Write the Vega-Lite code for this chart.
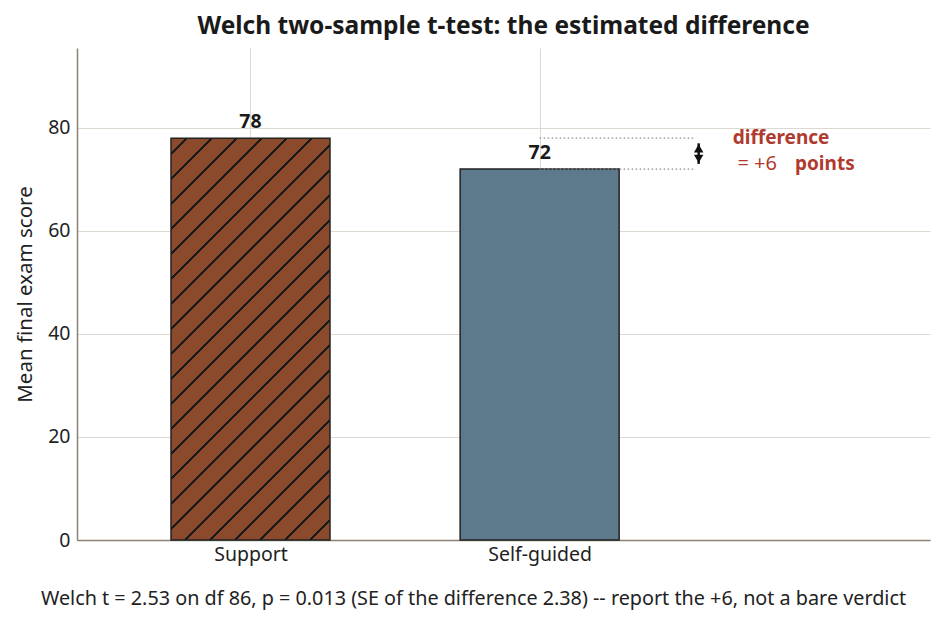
{
  "$schema": "https://vega.github.io/schema/vega-lite/v6.json",
  "autosize": "none",
  "width": 853,
  "height": 492,
  "padding": {"left": 77, "top": 48, "right": 16, "bottom": 88},
  "title": {
    "text": "Welch two-sample t-test: the estimated difference",
    "fontSize": 24.5,
    "fontWeight": "bold",
    "color": "#1a1a1a",
    "offset": 9
  },
  "config": {
    "font": "Noto Sans",
    "view": {"stroke": null},
    "axis": {
      "labelColor": "#222222",
      "titleColor": "#222222",
      "labelFontSize": 19.5,
      "titleFontSize": 20.5,
      "titleFontWeight": "normal",
      "ticks": false,
      "domainColor": "#8b8272",
      "domainWidth": 1.5,
      "gridColor": "#dcd8d2",
      "gridWidth": 1
    }
  },
  "data": {
    "values": [
      {"group": "Support", "pos": 0, "mean": 78},
      {"group": "Self-guided", "pos": 1, "mean": 72}
    ]
  },
  "layer": [
    {
      "mark": {"type": "bar", "orient": "vertical", "width": 159, "stroke": "#222222", "strokeWidth": 1.5},
      "encoding": {
        "x": {
          "field": "pos",
          "type": "quantitative",
          "scale": {"domain": [-0.6, 2.35], "nice": false, "zero": false, "padding": 0},
          "axis": {
            "values": [0, 1],
            "labelExpr": "datum.value === 0 ? 'Support' : datum.value === 1 ? 'Self-guided' : ''",
            "labelPadding": 5,
            "grid": true,
            "title": "Welch t = 2.53 on df 86, p = 0.013 (SE of the difference 2.38) -- report the +6, not a bare verdict",
            "titleFontSize": 19.8,
            "titleX": 396,
            "titleY": 64,
            "titleAnchor": null,
            "titleAlign": "center",
            "titleBaseline": "alphabetic"
          }
        },
        "y": {
          "field": "mean",
          "type": "quantitative",
          "scale": {"domain": [0, 95.5], "nice": false},
          "axis": {
            "values": [0, 20, 40, 60, 80],
            "labelPadding": 7,
            "title": "Mean final exam score",
            "titlePadding": 12
          }
        },
        "fill": {
          "condition": {
            "test": "datum.group === 'Support'",
            "value": {
              "gradient": "linear",
              "x1": 0, "y1": 0, "x2": 0.4773, "y2": 1.2068,
              "stops": [
                {"offset": 0, "color": "#8a4a2b"},
                {"offset": 0.0256, "color": "#8a4a2b"}, {"offset": 0.0256, "color": "#1a1a1a"}, {"offset": 0.0304, "color": "#1a1a1a"}, {"offset": 0.0304, "color": "#8a4a2b"},
                {"offset": 0.0701, "color": "#8a4a2b"}, {"offset": 0.0701, "color": "#1a1a1a"}, {"offset": 0.0749, "color": "#1a1a1a"}, {"offset": 0.0749, "color": "#8a4a2b"},
                {"offset": 0.1147, "color": "#8a4a2b"}, {"offset": 0.1147, "color": "#1a1a1a"}, {"offset": 0.1195, "color": "#1a1a1a"}, {"offset": 0.1195, "color": "#8a4a2b"},
                {"offset": 0.1593, "color": "#8a4a2b"}, {"offset": 0.1593, "color": "#1a1a1a"}, {"offset": 0.1641, "color": "#1a1a1a"}, {"offset": 0.1641, "color": "#8a4a2b"},
                {"offset": 0.2038, "color": "#8a4a2b"}, {"offset": 0.2038, "color": "#1a1a1a"}, {"offset": 0.2086, "color": "#1a1a1a"}, {"offset": 0.2086, "color": "#8a4a2b"},
                {"offset": 0.2484, "color": "#8a4a2b"}, {"offset": 0.2484, "color": "#1a1a1a"}, {"offset": 0.2532, "color": "#1a1a1a"}, {"offset": 0.2532, "color": "#8a4a2b"},
                {"offset": 0.2930, "color": "#8a4a2b"}, {"offset": 0.2930, "color": "#1a1a1a"}, {"offset": 0.2978, "color": "#1a1a1a"}, {"offset": 0.2978, "color": "#8a4a2b"},
                {"offset": 0.3375, "color": "#8a4a2b"}, {"offset": 0.3375, "color": "#1a1a1a"}, {"offset": 0.3423, "color": "#1a1a1a"}, {"offset": 0.3423, "color": "#8a4a2b"},
                {"offset": 0.3821, "color": "#8a4a2b"}, {"offset": 0.3821, "color": "#1a1a1a"}, {"offset": 0.3869, "color": "#1a1a1a"}, {"offset": 0.3869, "color": "#8a4a2b"},
                {"offset": 0.4267, "color": "#8a4a2b"}, {"offset": 0.4267, "color": "#1a1a1a"}, {"offset": 0.4315, "color": "#1a1a1a"}, {"offset": 0.4315, "color": "#8a4a2b"},
                {"offset": 0.4712, "color": "#8a4a2b"}, {"offset": 0.4712, "color": "#1a1a1a"}, {"offset": 0.4760, "color": "#1a1a1a"}, {"offset": 0.4760, "color": "#8a4a2b"},
                {"offset": 0.5158, "color": "#8a4a2b"}, {"offset": 0.5158, "color": "#1a1a1a"}, {"offset": 0.5206, "color": "#1a1a1a"}, {"offset": 0.5206, "color": "#8a4a2b"},
                {"offset": 0.5604, "color": "#8a4a2b"}, {"offset": 0.5604, "color": "#1a1a1a"}, {"offset": 0.5652, "color": "#1a1a1a"}, {"offset": 0.5652, "color": "#8a4a2b"},
                {"offset": 0.6049, "color": "#8a4a2b"}, {"offset": 0.6049, "color": "#1a1a1a"}, {"offset": 0.6097, "color": "#1a1a1a"}, {"offset": 0.6097, "color": "#8a4a2b"},
                {"offset": 0.6495, "color": "#8a4a2b"}, {"offset": 0.6495, "color": "#1a1a1a"}, {"offset": 0.6543, "color": "#1a1a1a"}, {"offset": 0.6543, "color": "#8a4a2b"},
                {"offset": 0.6940, "color": "#8a4a2b"}, {"offset": 0.6940, "color": "#1a1a1a"}, {"offset": 0.6988, "color": "#1a1a1a"}, {"offset": 0.6988, "color": "#8a4a2b"},
                {"offset": 0.7386, "color": "#8a4a2b"}, {"offset": 0.7386, "color": "#1a1a1a"}, {"offset": 0.7434, "color": "#1a1a1a"}, {"offset": 0.7434, "color": "#8a4a2b"},
                {"offset": 0.7832, "color": "#8a4a2b"}, {"offset": 0.7832, "color": "#1a1a1a"}, {"offset": 0.7880, "color": "#1a1a1a"}, {"offset": 0.7880, "color": "#8a4a2b"},
                {"offset": 0.8277, "color": "#8a4a2b"}, {"offset": 0.8277, "color": "#1a1a1a"}, {"offset": 0.8325, "color": "#1a1a1a"}, {"offset": 0.8325, "color": "#8a4a2b"},
                {"offset": 0.8723, "color": "#8a4a2b"}, {"offset": 0.8723, "color": "#1a1a1a"}, {"offset": 0.8771, "color": "#1a1a1a"}, {"offset": 0.8771, "color": "#8a4a2b"},
                {"offset": 0.9169, "color": "#8a4a2b"}, {"offset": 0.9169, "color": "#1a1a1a"}, {"offset": 0.9217, "color": "#1a1a1a"}, {"offset": 0.9217, "color": "#8a4a2b"},
                {"offset": 0.9614, "color": "#8a4a2b"}, {"offset": 0.9614, "color": "#1a1a1a"}, {"offset": 0.9662, "color": "#1a1a1a"}, {"offset": 0.9662, "color": "#8a4a2b"},
                {"offset": 1, "color": "#8a4a2b"}
              ]
            }
          },
          "value": "#5c7a8b"
        }
      }
    },
    {
      "mark": {"type": "text", "fontSize": 19.5, "fontWeight": "bold", "color": "#1a1a1a", "baseline": "alphabetic", "dy": -10},
      "encoding": {
        "x": {"field": "pos", "type": "quantitative"},
        "y": {"field": "mean", "type": "quantitative"},
        "text": {"field": "mean", "type": "quantitative"}
      }
    },
    {
      "mark": {"type": "rule", "color": "#8a8a8a", "strokeWidth": 1.2, "strokeDash": [1.5, 2.5]},
      "encoding": {
        "x": {"datum": 1},
        "x2": {"datum": 1.54},
        "y": {"field": "mean", "type": "quantitative"}
      }
    },
    {
      "data": {"values": [{"hi": 77.0, "lo": 73.0}]},
      "mark": {"type": "rule", "color": "#111111", "strokeWidth": 2.5},
      "encoding": {
        "x": {"datum": 1.55},
        "y": {"field": "hi", "type": "quantitative"},
        "y2": {"field": "lo"}
      }
    },
    {
      "data": {"values": [{"end": "top", "v": 76.0}, {"end": "bottom", "v": 74.0}]},
      "mark": {"type": "point", "filled": true, "color": "#111111", "size": 90, "opacity": 1},
      "encoding": {
        "x": {"datum": 1.55},
        "y": {"field": "v", "type": "quantitative"},
        "shape": {
          "field": "end",
          "type": "nominal",
          "scale": {"domain": ["top", "bottom"], "range": ["triangle-up", "triangle-down"]},
          "legend": null
        }
      }
    },
    {
      "data": {"values": [{"note": "difference"}]},
      "mark": {"type": "text", "fontSize": 19, "fontWeight": "bold", "color": "#b03a2e", "align": "left", "baseline": "middle"},
      "encoding": {
        "x": {"datum": 1.668},
        "y": {"datum": 78.0},
        "text": {"field": "note"}
      }
    },
    {
      "data": {"values": [{"note": "= +6"}]},
      "mark": {"type": "text", "fontSize": 20, "color": "#b03a2e", "align": "left", "baseline": "middle"},
      "encoding": {
        "x": {"datum": 1.684},
        "y": {"datum": 72.9},
        "text": {"field": "note"}
      }
    },
    {
      "data": {"values": [{"note": "points"}]},
      "mark": {"type": "text", "fontSize": 19, "fontWeight": "bold", "color": "#b03a2e", "align": "left", "baseline": "middle"},
      "encoding": {
        "x": {"datum": 1.883},
        "y": {"datum": 72.9},
        "text": {"field": "note"}
      }
    }
  ]
}
